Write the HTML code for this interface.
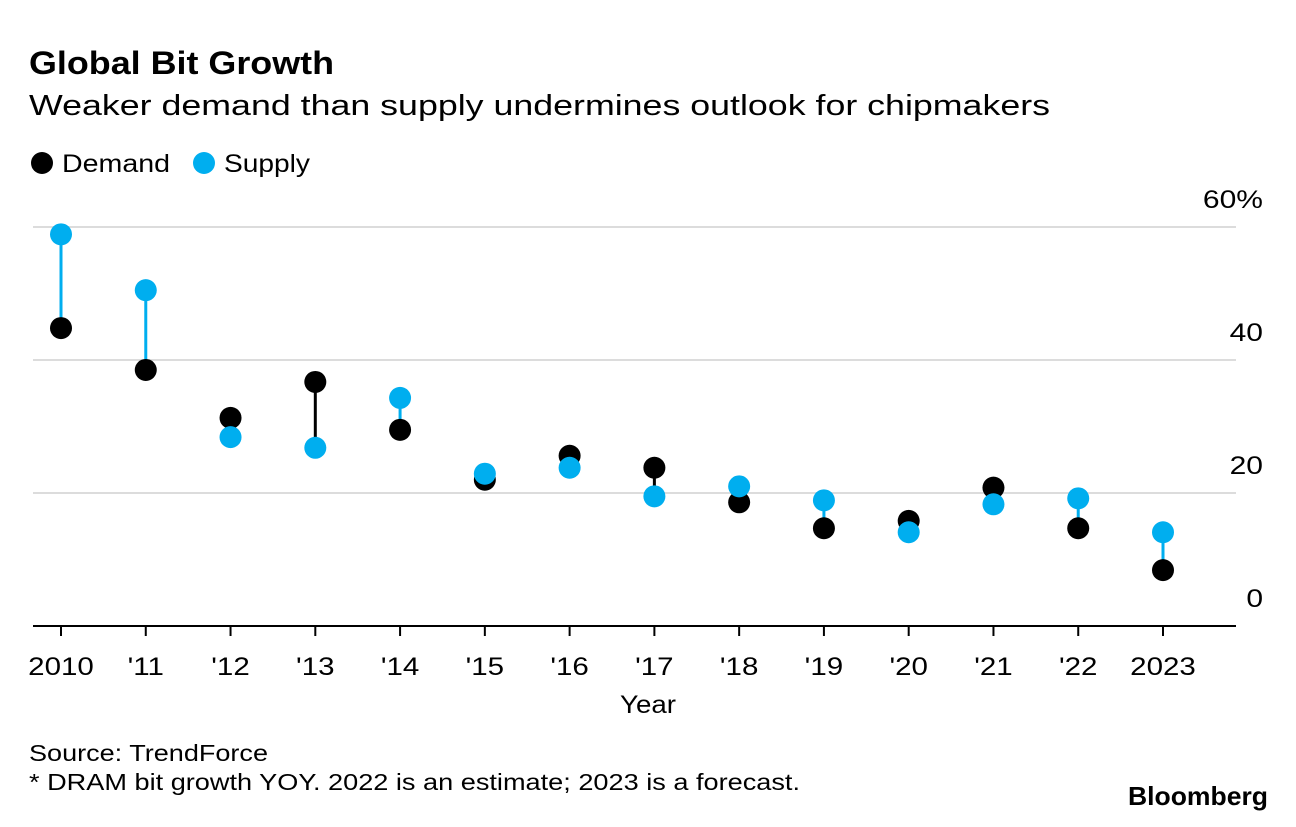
<!DOCTYPE html>
<html><head><meta charset="utf-8">
<style>
body{margin:0;background:#fff;font-family:"Liberation Sans",sans-serif;}
svg text{font-family:"Liberation Sans",sans-serif;}
</style></head>
<body>
<svg id="chart" width="1296" height="822" xmlns="http://www.w3.org/2000/svg">
<text x="29" y="74" font-size="32" font-weight="bold" fill="#000" textLength="305" lengthAdjust="spacingAndGlyphs">Global Bit Growth</text>
<text x="29" y="115" font-size="29" fill="#000" textLength="1021" lengthAdjust="spacingAndGlyphs">Weaker demand than supply undermines outlook for chipmakers</text>
<g>
<circle cx="42" cy="163" r="11" fill="#000"/>
<text x="62" y="172" font-size="25" textLength="108" lengthAdjust="spacingAndGlyphs">Demand</text>
<circle cx="204" cy="163" r="11" fill="#00aeef"/>
<text x="224" y="172" font-size="25" textLength="86" lengthAdjust="spacingAndGlyphs">Supply</text>
</g>
<g id="grid"></g>
<g id="marks"></g>
<text x="620" y="713" font-size="25" textLength="56" lengthAdjust="spacingAndGlyphs">Year</text>
<text x="29" y="761" font-size="23" textLength="239" lengthAdjust="spacingAndGlyphs">Source: TrendForce</text>
<text x="29" y="790" font-size="23" textLength="771" lengthAdjust="spacingAndGlyphs">* DRAM bit growth YOY. 2022 is an estimate; 2023 is a forecast.</text>
<text x="1128" y="805" font-size="26" font-weight="bold" textLength="140" lengthAdjust="spacingAndGlyphs">Bloomberg</text>
</svg>
<script>
const categories=["2010","'11","'12","'13","'14","'15","'16","'17","'18","'19","'20","'21","'22","2023"];
const demand=[44.8,38.5,31.3,36.7,29.5,22,25.6,23.8,18.6,14.7,15.8,20.8,14.7,8.4];
const supply=[58.9,50.5,28.4,26.8,34.3,22.9,23.8,19.5,21,18.9,14.1,18.3,19.2,14.1];
const yTicks=[0,20,40,60];
const yTickLabels=["0","20","40","60%"];
const NS="http://www.w3.org/2000/svg";
const x=i=>61+i*(1163-61)/(categories.length-1);
const y=v=>626-v*(626-227)/60;
function mk(tag,attrs,parent){const e=document.createElementNS(NS,tag);for(const k in attrs)e.setAttribute(k,attrs[k]);parent.appendChild(e);return e;}
function widen(t,f){const w=t.getComputedTextLength();t.setAttribute('textLength',w*f);t.setAttribute('lengthAdjust','spacingAndGlyphs');}
const grid=document.getElementById('grid'),marks=document.getElementById('marks');
yTicks.forEach((t,i)=>{
 if(t!==0){const l=mk('line',{x1:33,x2:1236,y1:y(t),y2:y(t),stroke:'#dcdcdc','stroke-width':2},grid);
 
 }
 const tx=mk('text',{x:1263,y:y(t)-19,'font-size':25,'text-anchor':'end'},grid);
 tx.textContent=yTickLabels[i];
 
 
 widen(tx,1.2);
});
const ax=mk('line',{x1:33,x2:1236,y1:626,y2:626,stroke:'#000','stroke-width':2},grid);


categories.forEach((c,i)=>{
 const tk=mk('line',{x1:x(i),x2:x(i),y1:626,y2:636,stroke:'#000','stroke-width':2},grid);
 
 
 const tl=mk('text',{x:x(i),y:675,'font-size':25,'text-anchor':'middle'},grid);
 tl.textContent=c;
 
 
 widen(tl,1.18);
 const col=supply[i]>demand[i]?'#00aeef':'#000';
 const ln=mk('line',{x1:x(i),x2:x(i),y1:y(demand[i]),y2:y(supply[i]),stroke:col,'stroke-width':3},marks);
 
 
 const d=mk('circle',{cx:x(i),cy:y(demand[i]),r:11,fill:'#000'},marks);
 
 
 const s=mk('circle',{cx:x(i),cy:y(supply[i]),r:11,fill:'#00aeef'},marks);
 
 
});
</script>
</body></html>
